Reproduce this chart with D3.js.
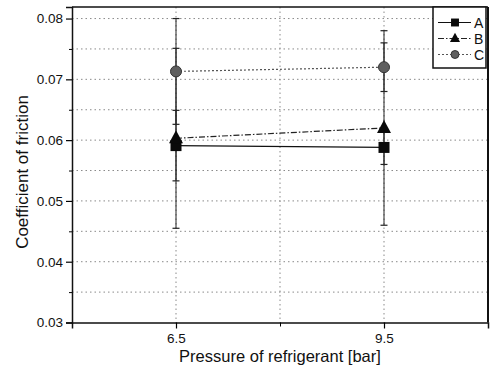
<!DOCTYPE html>
<html><head><meta charset="utf-8">
<script src="https://cdn.jsdelivr.net/npm/d3@7"></script>
<style>body{margin:0;background:#fff;} svg{display:block;font-family:"Liberation Sans",Arial,sans-serif;}</style>
</head><body>
<svg id="c" width="491" height="370"></svg>
<script>
const pressures = [6.5, 9.5];
const seriesNames = ["A", "B", "C"];
const valuesA = [0.0591, 0.0588];
const errorsA = [0.0058, 0.0028];
const valuesB = [0.0603, 0.0620];
const errorsB = [0.0148, 0.0160];
const valuesC = [0.0713, 0.0720];
const errorsC = [0.0087, 0.0040];
const xTicks = [6.5, 9.5];
const xMinorTicks = [8.0];
const yTicks = [0.03, 0.04, 0.05, 0.06, 0.07, 0.08];
const yMinorTicks = [0.035, 0.045, 0.055, 0.065, 0.075];
const yGrid = [0.035, 0.04, 0.045, 0.05, 0.055, 0.06, 0.065, 0.07, 0.075, 0.08];

const svg = d3.select("#c");
const L = 72, T = 7, R = 488, B = 322.5;
const x = d3.scaleLinear().domain([5, 11]).range([L, R]);
const y = d3.scaleLinear().domain([0.03, 0.0819]).range([B, T]);

// grid
const g = svg.append("g");
g.selectAll("line.hg").data(yGrid).join("line")
  .attr("x1", L).attr("x2", R).attr("y1", d => y(d)).attr("y2", d => y(d))
  .attr("stroke", "#8a8a8a").attr("stroke-width", 1).attr("stroke-dasharray", "1.5,3");
g.selectAll("line.vg").data([6.5, 8.0, 9.5]).join("line")
  .attr("x1", d => x(d)).attr("x2", d => x(d)).attr("y1", T).attr("y2", B)
  .attr("stroke", "#8a8a8a").attr("stroke-width", 1).attr("stroke-dasharray", "1.5,3");

// frame top and right
svg.append("line").attr("x1", L).attr("x2", R).attr("y1", T).attr("y2", T).attr("stroke", "#111").attr("stroke-width", 1.5);
svg.append("line").attr("x1", R).attr("x2", R).attr("y1", T).attr("y2", B).attr("stroke", "#111").attr("stroke-width", 2);

// axes
const yAxis = d3.axisLeft(y).tickValues(yTicks).tickFormat(d3.format(".2f")).tickSize(6).tickPadding(3);
const ya = svg.append("g").attr("transform", `translate(${L},0)`).call(yAxis);
ya.select(".domain").attr("stroke-width", 1.5).attr("stroke", "#111");
ya.selectAll(".tick line").attr("stroke-width", 1.2);
ya.selectAll("text").attr("font-size", 13.5).attr("fill", "#111");
const yMin = d3.axisLeft(y).tickValues(yMinorTicks).tickFormat("").tickSize(3);
const ym = svg.append("g").attr("transform", `translate(${L},0)`).call(yMin);
ym.select(".domain").remove();

const xAxis = d3.axisBottom(x).tickValues(xTicks).tickFormat(d3.format(".1f")).tickSize(6).tickPadding(5);
const xa = svg.append("g").attr("transform", `translate(0,${B})`).call(xAxis);
xa.select(".domain").attr("stroke-width", 1.5).attr("stroke", "#111");
xa.selectAll(".tick line").attr("stroke-width", 1.2);
xa.selectAll("text").attr("font-size", 13.5).attr("fill", "#111");
const xMin = d3.axisBottom(x).tickValues(xMinorTicks).tickFormat("").tickSize(4);
const xm = svg.append("g").attr("transform", `translate(0,${B})`).call(xMin);
xm.select(".domain").remove();

// labels
svg.append("text").attr("x", 280).attr("y", 362).attr("text-anchor", "middle")
  .attr("font-size", 16.5).attr("fill", "#111").text("Pressure of refrigerant [bar]");
svg.append("text").attr("transform", `translate(28,172) rotate(-90)`).attr("text-anchor", "middle")
  .attr("font-size", 17).attr("fill", "#111").text("Coefficient of friction");

const series = [
  {name: "A", vals: valuesA, errs: errorsA, dash: null, lc: "#111", marker: "square"},
  {name: "B", vals: valuesB, errs: errorsB, dash: "6,2,1.5,2", lc: "#222", marker: "triangle"},
  {name: "C", vals: valuesC, errs: errorsC, dash: "2,2", lc: "#555", marker: "circle"}
];

function drawMarker(sel, type, cx, cy, scale) {
  const s = scale || 1;
  if (type === "square") {
    sel.append("rect").attr("x", cx - 5.5*s).attr("y", cy - 5.5*s).attr("width", 11*s).attr("height", 11*s).attr("fill", "#0a0a0a");
  } else if (type === "triangle") {
    const h = 13*s;
    sel.append("path").attr("d", `M${cx},${cy - h*0.62} L${cx + 7*s},${cy + h*0.38} L${cx - 7*s},${cy + h*0.38} Z`).attr("fill", "#0a0a0a");
  } else {
    sel.append("circle").attr("cx", cx).attr("cy", cy).attr("r", 5.5*s).attr("fill", "#5f5f5f").attr("stroke", "#333").attr("stroke-width", 1);
  }
}

const line = d3.line().x(d => x(d[0])).y(d => y(d[1]));
const eb = svg.append("g");
series.forEach(s => {
  s.vals.forEach((v, i) => {
    const cx = x(pressures[i]);
    eb.append("line").attr("x1", cx).attr("x2", cx).attr("y1", y(v - s.errs[i])).attr("y2", y(v + s.errs[i])).attr("stroke", "#222").attr("stroke-width", 1);
    [v - s.errs[i], v + s.errs[i]].forEach(e => {
      eb.append("line").attr("x1", cx - 3.5).attr("x2", cx + 3.5).attr("y1", y(e)).attr("y2", y(e)).attr("stroke", "#222").attr("stroke-width", 1.2);
    });
  });
});
series.forEach(s => {
  svg.append("path").datum(pressures.map((p, i) => [p, s.vals[i]])).attr("d", line)
    .attr("fill", "none").attr("stroke", s.lc).attr("stroke-width", 1.2)
    .attr("stroke-dasharray", s.dash);
});
series.forEach(s => {
  const mg = svg.append("g");
  s.vals.forEach((v, i) => drawMarker(mg, s.marker, x(pressures[i]), y(v), 1));
});

// legend
const lg = svg.append("g");
lg.append("rect").attr("x", 433).attr("y", T).attr("width", 53).attr("height", 61)
  .attr("fill", "#fff").attr("stroke", "#111").attr("stroke-width", 1.5);
series.forEach((s, i) => {
  const ly = 22.5 + i * 16;
  lg.append("line").attr("x1", 438).attr("x2", 471).attr("y1", ly).attr("y2", ly)
    .attr("stroke", s.lc).attr("stroke-width", 1.2).attr("stroke-dasharray", s.dash);
  drawMarker(lg, s.marker, 455, ly, 0.72);
  lg.append("text").attr("x", 474).attr("y", ly + 5).attr("font-size", 14).attr("fill", "#111").text(s.name);
});
</script>
</body></html>
